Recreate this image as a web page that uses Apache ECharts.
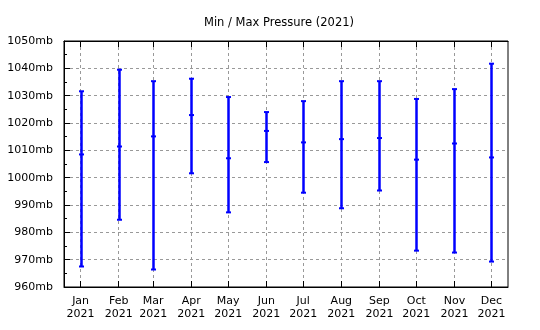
<!DOCTYPE html>
<html>
<head>
<meta charset="utf-8">
<script src="https://cdn.jsdelivr.net/npm/echarts@6/dist/echarts.min.js"></script>
<style>html,body{margin:0;padding:0;background:#fff;}#c{width:540px;height:330px;}</style>
</head>
<body>
<div id="c"></div>
<script>
const months = ['2021-01-01','2021-02-01','2021-03-01','2021-04-01','2021-05-01','2021-06-01','2021-07-01','2021-08-01','2021-09-01','2021-10-01','2021-11-01','2021-12-01'];
const monthLabels = ['Jan\n2021','Feb\n2021','Mar\n2021','Apr\n2021','May\n2021','Jun\n2021','Jul\n2021','Aug\n2021','Sep\n2021','Oct\n2021','Nov\n2021','Dec\n2021'];
const maxVals  = [1031.6, 1039.5, 1035.3, 1036.2, 1029.5, 1024.0, 1028.0, 1035.3, 1035.3, 1028.8, 1032.4, 1041.7];
const meanVals = [1008.5, 1011.4, 1015.1, 1022.9, 1007.1, 1017.1, 1012.9, 1014.1, 1014.5, 1006.6, 1012.5, 1007.4];
const minVals  = [ 967.5,  984.6,  966.4, 1001.6,  987.3, 1005.7,  994.5,  988.8,  995.3,  973.3,  972.6,  969.3];

const ts = months.map(m => Date.parse(m + 'T00:00:00Z'));
const data = ts.map((t, i) => [t, minVals[i], meanVals[i], maxVals[i]]);
const FONT = 'DejaVu Sans';
const BLUE = '#0000ff';

const chart = echarts.init(document.getElementById('c'), null, {renderer: 'canvas'});
const xMin = Date.UTC(2020, 11, 18, 12);
const xMax = Date.UTC(2021, 11, 14, 12);

function labelFor(v) {
  const i = ts.indexOf(v);
  return i >= 0 ? monthLabels[i] : '';
}

chart.setOption({
  animation: false,
  backgroundColor: '#fff',
  title: {
    text: 'Min / Max Pressure (2021)',
    left: 199, top: 12,
    textStyle: {fontFamily: FONT, fontSize: 11.5, fontWeight: 'normal', color: '#000'}
  },
  grid: {left: 64, right: 32, top: 41, bottom: 43, show: true, borderColor: '#000', borderWidth: 1, backgroundColor: 'transparent'},
  xAxis: [{
    type: 'value', min: xMin, max: xMax, position: 'bottom',
    axisLine: {show: true, lineStyle: {color: '#000', width: 1}},
    axisTick: {show: true, inside: true, length: 6, customValues: ts, lineStyle: {color: '#000'}},
    axisLabel: {customValues: ts, formatter: labelFor, fontFamily: FONT, fontSize: 11, color: '#000', margin: 8, lineHeight: 13},
    splitLine: {show: true, lineStyle: {color: '#999', type: [3, 3], width: 1}}
  }, {
    type: 'value', min: xMin, max: xMax, position: 'top',
    axisLine: {show: true, lineStyle: {color: '#000', width: 1}},
    axisTick: {show: true, inside: true, length: 6, customValues: ts, lineStyle: {color: '#000'}},
    axisLabel: {show: false},
    splitLine: {show: false}
  }],
  yAxis: {
    type: 'value', min: 960, max: 1050, interval: 10,
    axisLine: {show: true, lineStyle: {color: '#000'}},
    axisTick: {show: true, inside: true, length: 6, lineStyle: {color: '#000'}},
    minorTick: {show: true, splitNumber: 2, length: 3, lineStyle: {color: '#000'}},
    axisLabel: {formatter: function (v) { return String(v) + 'mb'; }, fontFamily: FONT, fontSize: 11, color: '#000', margin: 11},
    splitLine: {show: true, lineStyle: {color: '#999', type: [3, 3], width: 1}}
  },
  series: [{
    type: 'custom',
    xAxisIndex: 0,
    data: data,
    encode: {x: 0, y: [1, 2, 3]},
    renderItem: function (params, api) {
      const x = api.value(0);
      const lo = api.coord([x, api.value(1)]);
      const mid = api.coord([x, api.value(2)]);
      const hi = api.coord([x, api.value(3)]);
      const cx = Math.round(lo[0]) + 0.5;
      const cap = 2.5;
      const st = {stroke: BLUE, lineWidth: 2.5};
      const cs = {stroke: BLUE, lineWidth: 2};
      return {
        type: 'group',
        children: [
          {type: 'line', shape: {x1: cx, y1: lo[1], x2: cx, y2: hi[1]}, style: st},
          {type: 'line', shape: {x1: cx - cap, y1: lo[1], x2: cx + cap, y2: lo[1]}, style: cs},
          {type: 'line', shape: {x1: cx - cap, y1: hi[1], x2: cx + cap, y2: hi[1]}, style: cs},
          {type: 'line', shape: {x1: cx - cap, y1: mid[1], x2: cx + cap, y2: mid[1]}, style: cs}
        ]
      };
    }
  }]
});
</script>
</body>
</html>
